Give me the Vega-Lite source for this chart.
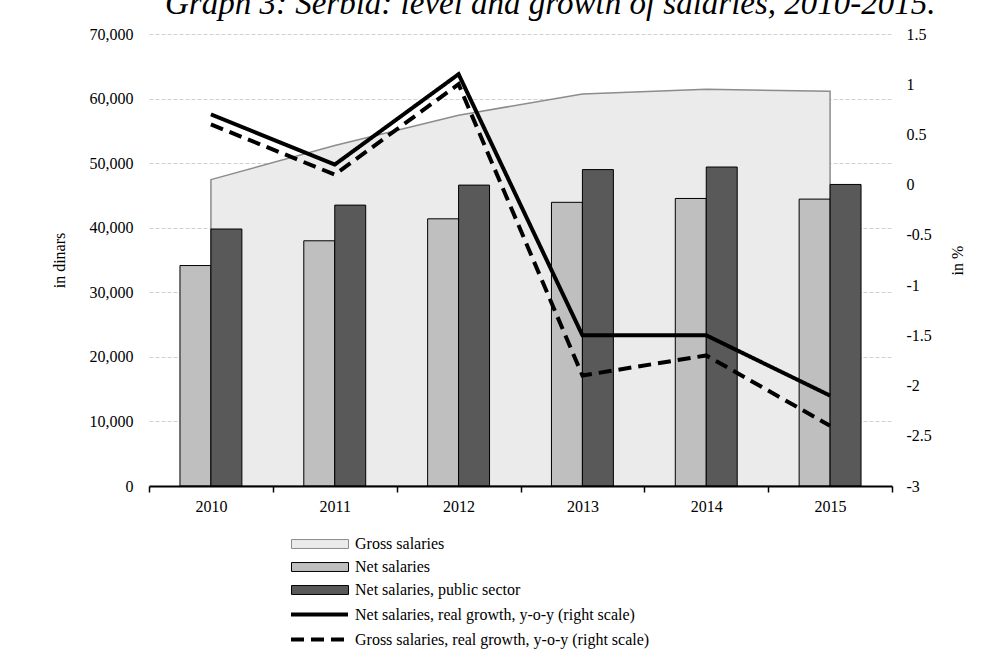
{
  "$schema": "https://vega.github.io/schema/vega-lite/v6.json",
  "width": 743,
  "height": 452,
  "autosize": {"type": "none"},
  "padding": {"left": 149, "top": 34, "right": 97, "bottom": 183},
  "background": "white",
  "title": {
    "text": "Graph 3: Serbia: level and growth of salaries, 2010-2015.",
    "font": "Liberation Serif",
    "fontSize": 33,
    "fontStyle": "italic",
    "fontWeight": "normal",
    "color": "#000000",
    "anchor": "start",
    "frame": "group",
    "baseline": "alphabetic",
    "dx": 16,
    "dy": 33,
    "offset": 12
  },
  "datasets": {
    "levels": [
      {"year": "2010", "series": "Gross salaries", "value": 47450},
      {"year": "2011", "series": "Gross salaries", "value": 52733},
      {"year": "2012", "series": "Gross salaries", "value": 57430},
      {"year": "2013", "series": "Gross salaries", "value": 60708},
      {"year": "2014", "series": "Gross salaries", "value": 61426},
      {"year": "2015", "series": "Gross salaries", "value": 61145}
    ],
    "net": [
      {"year": "2010", "series": "Net salaries", "value": 34142},
      {"year": "2011", "series": "Net salaries", "value": 37976},
      {"year": "2012", "series": "Net salaries", "value": 41377},
      {"year": "2013", "series": "Net salaries", "value": 43932},
      {"year": "2014", "series": "Net salaries", "value": 44530},
      {"year": "2015", "series": "Net salaries", "value": 44432},
      {"year": "2010", "series": "Net salaries, public sector", "value": 39800},
      {"year": "2011", "series": "Net salaries, public sector", "value": 43500},
      {"year": "2012", "series": "Net salaries, public sector", "value": 46600},
      {"year": "2013", "series": "Net salaries, public sector", "value": 49000},
      {"year": "2014", "series": "Net salaries, public sector", "value": 49400},
      {"year": "2015", "series": "Net salaries, public sector", "value": 46700}
    ],
    "growth": [
      {"year": "2010", "series": "Net salaries, real growth, y-o-y (right scale)", "value": 0.7},
      {"year": "2011", "series": "Net salaries, real growth, y-o-y (right scale)", "value": 0.2},
      {"year": "2012", "series": "Net salaries, real growth, y-o-y (right scale)", "value": 1.1},
      {"year": "2013", "series": "Net salaries, real growth, y-o-y (right scale)", "value": -1.5},
      {"year": "2014", "series": "Net salaries, real growth, y-o-y (right scale)", "value": -1.5},
      {"year": "2015", "series": "Net salaries, real growth, y-o-y (right scale)", "value": -2.1},
      {"year": "2010", "series": "Gross salaries, real growth, y-o-y (right scale)", "value": 0.6},
      {"year": "2011", "series": "Gross salaries, real growth, y-o-y (right scale)", "value": 0.1},
      {"year": "2012", "series": "Gross salaries, real growth, y-o-y (right scale)", "value": 1.0},
      {"year": "2013", "series": "Gross salaries, real growth, y-o-y (right scale)", "value": -1.9},
      {"year": "2014", "series": "Gross salaries, real growth, y-o-y (right scale)", "value": -1.7},
      {"year": "2015", "series": "Gross salaries, real growth, y-o-y (right scale)", "value": -2.4}
    ]
  },
  "config": {
    "font": "Liberation Serif",
    "axis": {
      "labelFont": "Liberation Serif",
      "labelFontSize": 16,
      "labelColor": "#000000",
      "titleFont": "Liberation Serif",
      "titleFontSize": 16,
      "titleFontWeight": "normal",
      "titleColor": "#000000"
    },
    "legend": {
      "labelFont": "Liberation Serif",
      "labelFontSize": 16,
      "labelColor": "#000000",
      "labelLimit": 500
    },
    "view": {"stroke": null}
  },
  "encoding": {
    "x": {
      "field": "year",
      "type": "nominal",
      "scale": {"paddingInner": 0, "paddingOuter": 0},
      "axis": {
        "title": null,
        "labelAngle": 0,
        "domainColor": "#000000",
        "domainWidth": 2,
        "tickColor": "#000000",
        "tickWidth": 1.5,
        "tickSize": 6,
        "tickBand": "extent",
        "labelPadding": 6,
        "grid": false,
        "zindex": 1
      }
    }
  },
  "layer": [
    {
      "encoding": {
        "y": {
          "field": "value",
          "type": "quantitative",
          "stack": null,
          "scale": {"domain": [0, 70000], "nice": false},
          "axis": {
            "title": "in dinars",
            "values": [0, 10000, 20000, 30000, 40000, 50000, 60000, 70000],
            "format": ",d",
            "domain": false,
            "ticks": false,
            "labelPadding": 16,
            "titlePadding": 22,
            "grid": true,
            "gridColor": "#d0d0d0",
            "gridDash": [4, 2],
            "gridWidth": 1,
            "zindex": 0
          }
        },
        "fill": {
          "field": "series",
          "type": "nominal",
          "scale": {
            "domain": ["Gross salaries", "Net salaries", "Net salaries, public sector"],
            "range": ["#ebebeb", "#bfbfbf", "#595959"]
          },
          "legend": {
            "title": null,
            "orient": "none",
            "legendX": 142,
            "legendY": 500,
            "direction": "vertical",
            "symbolType": "M-1,-0.47H5V0.47H-1Z",
            "symbolSize": 361,
            "symbolStrokeWidth": 1,
            "symbolOpacity": 1,
            "labelOffset": 44,
            "rowPadding": 5
          }
        },
        "stroke": {
          "field": "series",
          "type": "nominal",
          "scale": {
            "domain": ["Gross salaries", "Net salaries", "Net salaries, public sector"],
            "range": ["#8c8c8c", "#000000", "#000000"]
          },
          "legend": {
            "title": null,
            "orient": "none",
            "legendX": 142,
            "legendY": 500,
            "direction": "vertical",
            "symbolType": "M-1,-0.47H5V0.47H-1Z",
            "symbolSize": 361,
            "symbolStrokeWidth": 1,
            "symbolOpacity": 1,
            "labelOffset": 44,
            "rowPadding": 5
          }
        }
      },
      "layer": [
        {
          "data": {"name": "levels"},
          "mark": {"type": "area", "opacity": 1, "strokeWidth": 1.5}
        },
        {
          "data": {"name": "net"},
          "mark": {"type": "bar", "opacity": 1, "strokeWidth": 1},
          "encoding": {
            "xOffset": {
              "field": "series",
              "type": "nominal",
              "scale": {"paddingInner": 0, "paddingOuter": 1.14}
            }
          }
        }
      ]
    },
    {
      "data": {"name": "growth"},
      "mark": {"type": "line", "stroke": "#000000", "strokeWidth": 4, "strokeJoin": "miter", "strokeCap": "butt"},
      "encoding": {
        "y": {
          "field": "value",
          "type": "quantitative",
          "scale": {"domain": [-3, 1.5], "nice": false, "zero": false},
          "axis": {
            "orient": "right",
            "title": "in %",
            "titleAngle": 270,
            "values": [-3, -2.5, -2, -1.5, -1, -0.5, 0, 0.5, 1, 1.5],
            "labelExpr": "'' + datum.value",
            "domain": false,
            "ticks": false,
            "grid": false,
            "labelPadding": 14,
            "titlePadding": 34
          }
        },
        "strokeDash": {
          "field": "series",
          "type": "nominal",
          "scale": {
            "domain": [
              "Net salaries, real growth, y-o-y (right scale)",
              "Gross salaries, real growth, y-o-y (right scale)"
            ],
            "range": [[1, 0], [13, 7]]
          },
          "legend": {
            "title": null,
            "orient": "none",
            "legendX": 140,
            "legendY": 569,
            "direction": "vertical",
            "symbolType": "M-1,0H5",
            "symbolSize": 361,
            "symbolStrokeWidth": 4,
            "symbolStrokeColor": "#000000",
            "symbolFillColor": "transparent",
            "symbolOpacity": 1,
            "labelOffset": 43,
            "rowPadding": 5
          }
        }
      }
    }
  ],
  "resolve": {"scale": {"y": "independent"}}
}
